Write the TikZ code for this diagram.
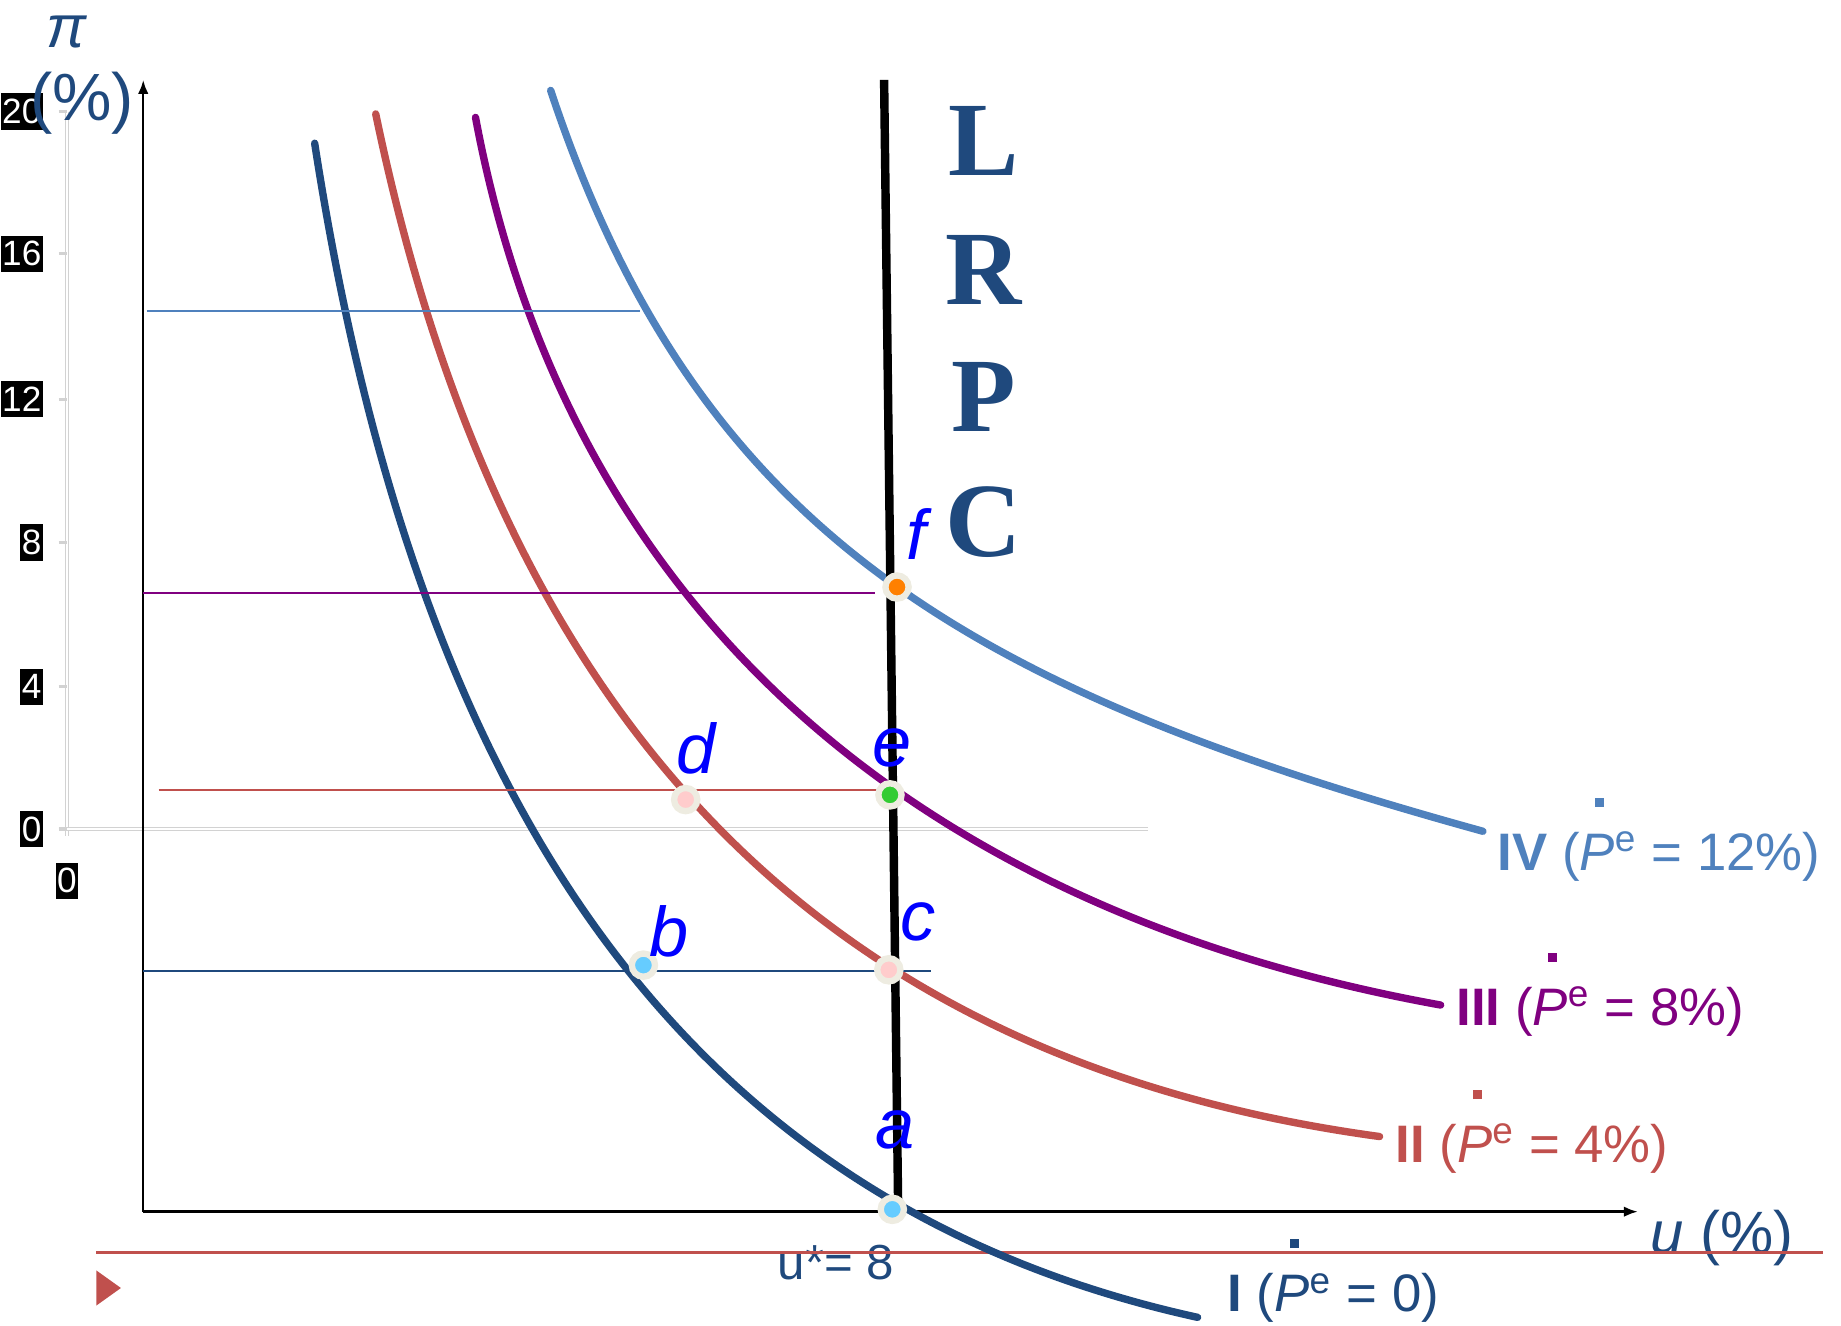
\documentclass[tikz,border=0pt]{standalone}
\usepackage{fontspec}
\setmainfont{Liberation Sans}
\newfontfamily\lrpcfont{Liberation Serif}
\usetikzlibrary{arrows.meta}

\definecolor{darkblue}{HTML}{1F497D}
\definecolor{redc}{HTML}{C0504D}
\definecolor{purp}{HTML}{800080}
\definecolor{lightblue}{HTML}{4F81BD}
\definecolor{beige}{HTML}{EEECE1}
\definecolor{dotblue}{HTML}{66CCFF}
\definecolor{dotpink}{HTML}{FFCCCC}
\definecolor{dotgreen}{HTML}{33CC33}
\definecolor{dotorange}{HTML}{FF8000}

% P with the dot of a rate of change, and the e of expectations
\newcommand{\pedot}{\textit{P}\llap{\rule[1.2em]{0.17em}{0.17em}\hspace{0.2em}}\textsuperscript{e}}

\begin{document}
\begin{tikzpicture}[x=0.01174cm, y=-0.01174cm,
    pc/.style={line width=2.1pt, line cap=round},
    guide/.style={line width=0.7pt},
    pt/.style={circle, fill=#1, draw=beige, line width=1.8pt, inner sep=0pt, minimum size=6.6pt},
    ptlab/.style={text=blue, font=\fontsize{20}{22}\selectfont\itshape},
    ticklab/.style={fill=black, text=white, inner xsep=0.4pt, inner ysep=1.6pt, font=\fontsize{10}{11}\selectfont},
    curvelab/.style={anchor=base west, inner sep=0pt, font=\fontsize{15}{17}\selectfont},
    bigletter/.style={text=darkblue, font=\fontsize{30}{32}\selectfont\lrpcfont\bfseries}]
    \useasboundingbox (0,0) rectangle (1568,1129);

    % Grey scale at the left
    \draw[gray!35, double=white, double distance=0.5pt] (57,95) -- (57,712);
    \draw[gray!35, double=white, double distance=0.5pt] (50,706) -- (978,706);
    \foreach \v/\y in {20/95, 16/216, 12/340, 8/462, 4/585, 0/706} {
        \draw[gray!35, line width=0.8pt] (50,\y) -- (57,\y);
        \node[ticklab, anchor=east] (tick\v) at (37,\y) {\v};
    }
    \node[ticklab] (tickx0) at (57,750) {0};

    % Axes
    \coordinate (origin) at (122,1032);
    \coordinate (ytop) at (122,68);
    \coordinate (xend) at (1395,1032);
    \draw[line width=0.7pt, -{Latex[length=4pt, width=3pt]}] (origin) -- (ytop);
    \draw[line width=0.7pt, -{Latex[length=4pt, width=3pt]}] (origin) -- (xend);
    \node[text=darkblue, inner sep=0pt, font=\fontsize{17}{19}\selectfont\itshape] (pilab) at (57,27) {π};
    \node[text=darkblue, inner sep=0pt, font=\fontsize{19}{21}\selectfont] (pctlab) at (70,88) {(\%)};
    \node[text=darkblue, anchor=base west, inner sep=0pt, font=\fontsize{17}{19}\selectfont] (ulab) at (1405,1068) {\textit{u} (\%)};
    \node[text=darkblue, anchor=base west, inner sep=0pt, font=\fontsize{14}{16}\selectfont] (ustar) at (662,1090) {u*= 8};

    % Red rule and marker at the bottom
    \coordinate (rl) at (82,1067);
    \coordinate (rr) at (1553,1067);
    \draw[redc, line width=0.9pt] (rl) -- (rr);
    \fill[redc] (82,1082) -- (103,1097) -- (82,1112) -- cycle;

    % Phillips curves
    \draw[pc, darkblue] (268,122) .. controls (349,646) and (556,1020) .. (1020,1122);
    \draw[pc, redc] (320,97) .. controls (428,616) and (699,903) .. (1175,968);
    \draw[pc, purp] (405,100) .. controls (484,523) and (784,776) .. (1227,856);
    \draw[pc, lightblue] (469,77) .. controls (595,457) and (829,588) .. (1263,708);

    % Curve labels
    \node[curvelab, text=lightblue] (lab4) at (1275,741) {\textbf{IV} (\pedot{} = 12\%)};
    \node[curvelab, text=purp] (lab3) at (1240,873) {\textbf{III} (\pedot{} = 8\%)};
    \node[curvelab, text=redc] (lab2) at (1188,990) {\textbf{II} (\pedot{} = 4\%)};
    \node[curvelab, text=darkblue] (lab1) at (1045,1117) {\textbf{I} (\pedot{} = 0)};

    % Inflation levels
    \coordinate (h4l) at (125,265);  \coordinate (h4r) at (545,265);
    \coordinate (h3l) at (122,505);  \coordinate (h3r) at (745,505);
    \coordinate (h2l) at (135,673);  \coordinate (h2r) at (760,673);
    \coordinate (h1l) at (122,827);  \coordinate (h1r) at (793,827);
    \draw[guide, lightblue] (h4l) -- (h4r);
    \draw[guide, purp] (h3l) -- (h3r);
    \draw[guide, redc] (h2l) -- (h2r);
    \draw[guide, darkblue] (h1l) -- (h1r);

    % Long-run Phillips curve
    \coordinate (lrtop) at (753,68);
    \coordinate (lrbot) at (765,1032);
    \draw[line width=2.4pt] (lrtop) -- (lrbot);
    \foreach \l/\y in {L/120, R/230, P/338, C/445} {
        \node[bigletter] (lrpc\l) at (838,\y) {\l};
    }

    % Points
    \foreach \n/\x/\y/\c in {a/760/1030/dotblue, b/548/822/dotblue, c/757/826/dotpink,
                             d/584/681/dotpink, e/758/677/dotgreen, f/764/500/dotorange} {
        \node[pt=\c] (\n) at (\x,\y) {};
    }
    \foreach \n/\x/\y in {a/762/962, b/570/793, c/782/785, d/593/637, e/760/637, f/780/455} {
        \node[ptlab] (lab\n) at (\x,\y) {\n};
    }
\end{tikzpicture}
\end{document}
